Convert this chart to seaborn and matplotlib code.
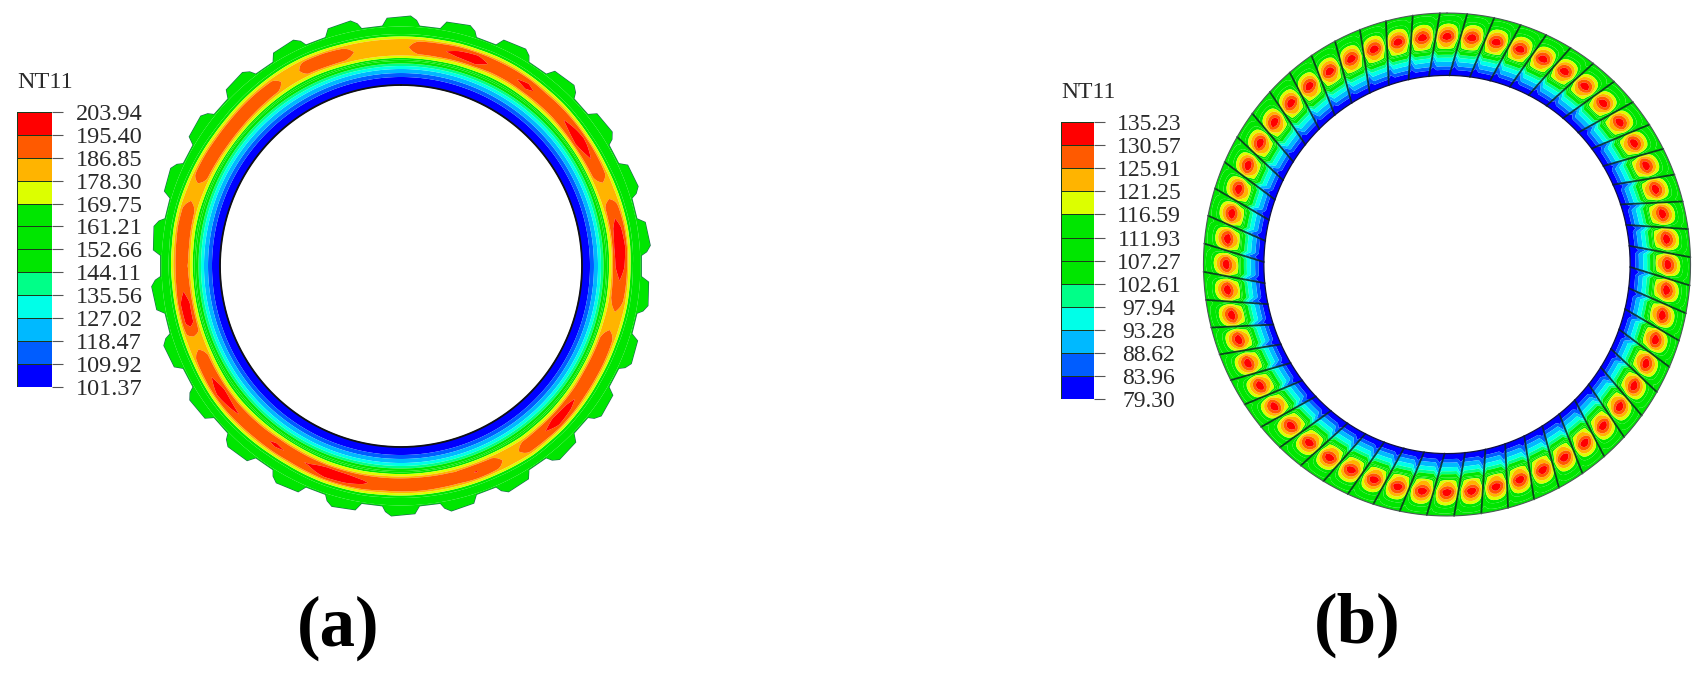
import numpy as np
import matplotlib
matplotlib.use("Agg")
import matplotlib.pyplot as plt
from matplotlib.colors import ListedColormap, BoundaryNorm
from matplotlib.patches import Polygon
import seaborn as sns

# ---- legend values (top to bottom) ----
labels_a = ["203.94","195.40","186.85","178.30","169.75","161.21","152.66",
            "144.11","135.56","127.02","118.47","109.92","101.37"]
labels_b = ["135.23","130.57","125.91","121.25","116.59","111.93","107.27",
            "102.61","97.94","93.28","88.62","83.96","79.30"]
band_colors = ["#ff0000","#ff5a00","#ffb400","#dcff00","#00e600","#00e600",
               "#00e600","#00ff88","#00ffe8","#00b9ff","#005dff","#0000ff"]

# ---- panel (a): radial temperature profile ----
a_r = [181,189,193,197,200,202.5,205,207.5,209,210.5,212.5,219,225,227,229.5,232,240,251]
a_T = [101.4,109.9,118.5,127,135.6,144.1,152.7,169,171,178.3,183,184,183,178.3,169.75,161,152,145.5]
a_hot_r = [211,212.5,215,219,223,225.5,227.5]
a_hot_w = [0,0.6,0.8,1,0.8,0.6,0]
# hot-band peak temperature, every 5 degrees clockwise from the top
a_peak = [184,191,194,198,200,193,194,198,192,193,197,201,196,191,183,192,199,202,
          200,194,189,184,191,194,195,193,198,200,194,191,183,191,196,190,191,193,
          192,191,197,200,201,196,194,197,193,194,197,200,195,191,183,199,200,193,
          190,192,193,190,183,192,194,193,193,193,192,190,182,192,194,190,184,183]
# radial wander of the hot band (same angles)
a_wander = [0,0,0,0.5,0.5,1,1,0.5,0,0,-0.5,-1,-1,-1,-0.5,0,0.5,0.5,
            0,0,0,-0.5,-1,-1,-1,-0.5,0,0.5,0.5,1,0.5,0,0,0,0,0,
            0,0,0.5,0.5,0.5,0,-0.5,-0.5,0,0.5,1,1,0.5,0,0,0,0,0,
            0.5,0.5,1,1,0.5,0,-0.5,-1,-1,-0.5,0,0.5,1,1,0.5,0,0,0]
a_teeth = 26
tooth_offset = [-4.4,-3.2,2.2,3.6,4.4]
tooth_radius = [240.5,248,250,246,240.5]

# ---- panel (b): radial profiles ----
b_r = [188,193.5,197,201.5,205.5,208.5,214,250]
b_T = [79.3,84,88.6,93.3,97.9,102.6,110,106]
b_hot_r = [212,216,220,224,226,230,235,238,244,250]
b_hot_w = [0,0.45,0.62,0.9,1,0.9,0.62,0.45,0.1,0]
b_phase = [0,0.15,0.3,0.4,0.5]
b_phase_w = [1,0.92,0.7,0.45,0.1]
b_dip_r = [190,205,215,225]
b_dip_T = [2,8,6,0]
b_dip_phase = [0.33,0.5]
b_dip_w = [0,1]
b_peak = 134
b_fins = 56
b_tilt = 4.0
b_spot_tilt = 2.0

FIG_W, FIG_H = 1704, 673
sns.set_theme(style="ticks")
plt.rcParams["font.family"] = ["Liberation Serif", "DejaVu Serif"]
fig = plt.figure(figsize=(FIG_W/100, FIG_H/100), dpi=100, facecolor="white")

def px_axes(x0, y0, w, h):
    return fig.add_axes([x0/FIG_W, 1-(y0+h)/FIG_H, w/FIG_W, h/FIG_H])

def legend(x0, y0, w, row, labels, center_x, fs, title_y):
    ax = px_axes(x0, y0, w, row*12)
    vals = np.array([float(v) for v in labels])
    mids = ((vals[:-1]+vals[1:])/2).reshape(-1, 1)
    cmap = ListedColormap(band_colors[::-1])
    norm = BoundaryNorm(vals[::-1], 12)
    sns.heatmap(mids, ax=ax, cmap=cmap, norm=norm, cbar=False, linewidths=0.7,
                linecolor="#1c3a1c", xticklabels=False, yticklabels=False)
    ax.set_yticks(np.arange(13))
    ax.set_yticklabels(labels, fontsize=fs, color="#2a2a2a", ha="center")
    ticklen = 11/1.389
    ax.tick_params(axis="y", left=False, right=True, labelleft=False, labelright=True,
                   length=ticklen, width=0.8, color="#555555",
                   pad=(center_x-x0-w-11)/1.389)
    ax.set_xticks([])
    for s in ax.spines.values():
        s.set_visible(False)
    fig.text(x0/FIG_W, 1-title_y/FIG_H, "NT11", fontsize=fs, color="#2a2a2a",
             ha="left", va="center")

def contour_ring(ax, X, Y, T, labels, clip=None):
    levels = np.array([float(v) for v in labels])[::-1]
    cs = ax.contourf(X, Y, np.clip(T, levels[0]+0.01, levels[-1]-0.01),
                     levels=levels, colors=band_colors[::-1], antialiased=True)
    if clip is not None:
        cs.set_clip_path(clip)
    return cs

# ---- panel (a) ring ----
ax_a = px_axes(401-255, 266-255, 510, 510)
ax_a.set_xlim(-255, 255); ax_a.set_ylim(-255, 255); ax_a.axis("off")
th = np.arange(0, 360.25, 0.5)
rr = np.arange(180.5, 252.5, 0.5)
TH, RR = np.meshgrid(th, rr)
angles = np.arange(0, 365, 5)
peak = np.interp(TH, angles, a_peak + [a_peak[0]])
wander = np.interp(TH, angles, a_wander + [a_wander[0]])
outer_part = np.clip((RR-205)/5, 0, 1)*np.clip((240-RR)/6, 0, 1)
base = np.interp(RR-wander*outer_part, a_r, a_T)
hot = np.interp(RR-wander, a_hot_r, a_hot_w, left=0, right=0)
Ta = base + hot*(peak-184)
Xa = RR*np.sin(np.radians(TH)); Ya = RR*np.cos(np.radians(TH))
poly = []
for i in range(a_teeth):
    c = i*360/a_teeth
    for o, r in zip(tooth_offset, tooth_radius):
        poly.append((r*np.sin(np.radians(c+o)), r*np.cos(np.radians(c+o))))
outline = Polygon(poly, closed=True, fill=False, edgecolor="#1b6b50", lw=0.9, transform=ax_a.transData)
ax_a.add_patch(outline)
contour_ring(ax_a, Xa, Ya, Ta, labels_a, clip=outline)
t = np.radians(th)
ax_a.plot(181*np.sin(t), 181*np.cos(t), color="#111111", lw=1.3)

# ---- panel (b) ring ----
ax_b = px_axes(1447-248.4, 264.5-256.5, 496.8, 513)
ax_b.set_xlim(-255, 255); ax_b.set_ylim(-255, 255); ax_b.axis("off")
rr = np.arange(188, 250.25, 0.25)
th = np.arange(0, 360.1, 0.2)
TH, RR = np.meshgrid(th, rr)
step = 360/b_fins
skew = b_spot_tilt*(RR-226)/62
phase = np.abs(((TH-skew)/step+0.5) % 1-0.5)
Tb = (np.interp(RR, b_r, b_T)
      + np.interp(RR, b_hot_r, b_hot_w, left=0, right=0)*np.interp(phase, b_phase, b_phase_w)*(b_peak-108)
      - np.interp(RR, b_dip_r, b_dip_T, left=2, right=0)*np.interp(phase, b_dip_phase, b_dip_w))
Xb = RR*np.sin(np.radians(TH)); Yb = RR*np.cos(np.radians(TH))
contour_ring(ax_b, Xb, Yb, Tb, labels_b)
for i in range(b_fins):
    c = (i+0.5)*step
    a0, a1 = np.radians(c+b_tilt*(188-226)/62), np.radians(c+b_tilt*(250-226)/62)
    ax_b.plot([188*np.sin(a0), 250*np.sin(a1)], [188*np.cos(a0), 250*np.cos(a1)],
              color="#0a2a20", lw=1.3, alpha=0.85)
t = np.radians(th)
ax_b.plot(250*np.sin(t), 250*np.cos(t), color="#4a5a55", lw=0.8)
ax_b.plot(188*np.sin(t), 188*np.cos(t), color="#101040", lw=0.9)

# ---- legends and captions ----
legend(17, 112, 35, 22.9, labels_a, 109, 17.5, 82)
legend(1061, 122, 33, 23.1, labels_b, 1149, 17, 92)
fig.text(338/FIG_W, 1-628/FIG_H, "(a)", fontsize=51, fontweight="bold", color="black", ha="center", va="center")
fig.text(1357/FIG_W, 1-625/FIG_H, "(b)", fontsize=51, fontweight="bold", color="black", ha="center", va="center")

fig.savefig("out.png", dpi=100, facecolor="white")
